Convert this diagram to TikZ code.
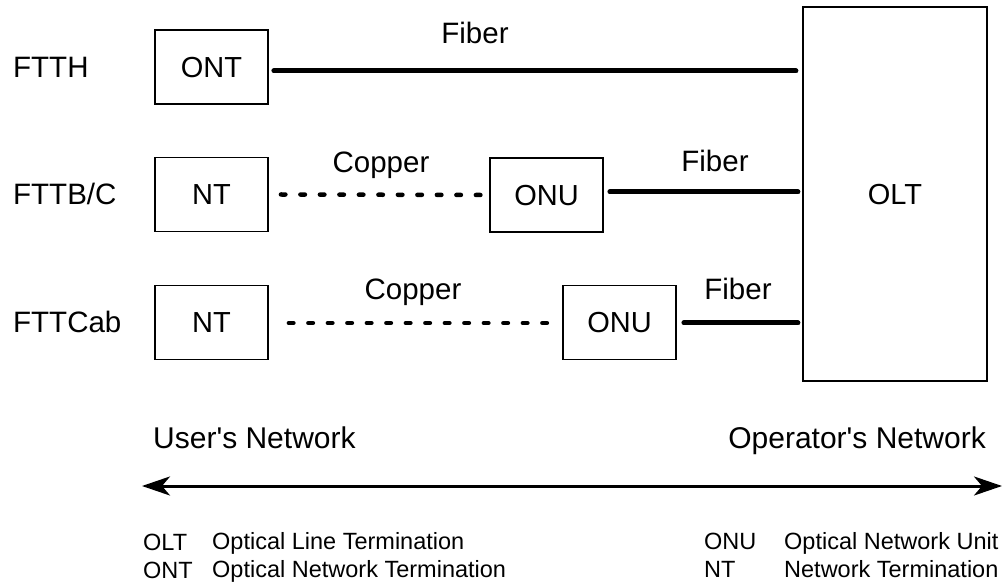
\documentclass[tikz,border=0pt]{standalone}
\usepackage{fontspec}
\setmainfont{Liberation Sans}
\usetikzlibrary{arrows.meta}
\begin{document}
\begin{tikzpicture}[x=1pt,y=-1pt,
  >={Stealth[length=28pt,width=19pt,inset=8pt]},
  box/.style={draw=black, line width=1.8pt, minimum width=113pt, minimum height=74pt, inner sep=0pt,
    font=\fontsize{29}{31}\selectfont, text height=21pt, text depth=0pt},
  bigbox/.style={draw=black, line width=2.2pt, minimum width=184pt, minimum height=374pt, inner sep=0pt,
    font=\fontsize{29}{31}\selectfont, text height=21pt, text depth=0pt},
  rowlabel/.style={anchor=base west, inner sep=0pt, font=\fontsize{29.5}{31}\selectfont},
  medium/.style={anchor=base, inner sep=0pt, font=\fontsize{29.5}{31}\selectfont},
  netlabel/.style={inner sep=0pt, font=\fontsize{30}{32}\selectfont},
  legend/.style={anchor=base west, inner sep=0pt, font=\fontsize{23.5}{25}\selectfont},
  fiber/.style={line width=5pt, line cap=round},
  copper/.style={line width=4.5pt, line cap=round, dash pattern=on 4.5pt off 15pt}
]
\useasboundingbox (0,0) rectangle (1007,585);

% boxes
\node[box] (ont) at (211.5,67) {ONT};
\node[box] (nt1) at (211.5,194.5) {NT};
\node[box] (onu1) at (546.5,195) {ONU};
\node[box] (nt2) at (211.5,322.5) {NT};
\node[box] (onu2) at (619.5,322.5) {ONU};
\node[bigbox] (olt) at (895,194) {OLT};

% row labels
\node[rowlabel] (lftth) at (13,78) {FTTH};
\node[rowlabel] (lfttb) at (13,205) {FTTB/C};
\node[rowlabel] (lfttc) at (13,333) {FTTCab};

% connectors (y=-1pt: a negative yshift moves down)
\draw[fiber] ([xshift=5pt,yshift=-4pt]ont.east) -- ([xshift=-6pt]olt.west |- 0,71);
\draw[copper] ([xshift=12pt]nt1.east) -- ([xshift=-7pt]onu1.west);
\draw[fiber] ([xshift=6pt,yshift=3pt]onu1.east) -- ([xshift=-4pt]olt.west |- 0,192);
\draw[copper] ([xshift=20pt,yshift=-0.5pt]nt2.east) -- ([xshift=-8pt,yshift=-0.5pt]onu2.west);
\draw[fiber] ([xshift=7pt,yshift=-0.5pt]onu2.east) -- ([xshift=-4pt]olt.west |- 0,323);

% medium labels
\node[medium] (f1) at (475,44) {Fiber};
\node[medium] (c2) at (381,173) {Copper};
\node[medium] (f2) at (715,172) {Fiber};
\node[medium] (c3) at (413,300) {Copper};
\node[medium] (f3) at (738,300) {Fiber};

% network labels and arrow
\node[netlabel, anchor=base west] (user) at (153,448) {User\textquotesingle s Network};
\node[netlabel, anchor=base east] (oper) at (986,448) {Operator\textquotesingle s Network};
\coordinate (al) at (142,486);
\coordinate (ar) at (1002,486);
\draw[line width=3pt, <->] (al) -- (ar);

% legend
\node[legend] (k1) at (143,550) {OLT};
\node[legend] (v1) at (212,549) {Optical Line Termination};
\node[legend] (k2) at (143,578) {ONT};
\node[legend] (v2) at (212,577) {Optical Network Termination};
\node[legend] (k3) at (704,549) {ONU};
\node[legend] (v3) at (784,549) {Optical Network Unit};
\node[legend] (k4) at (704,577) {NT};
\node[legend] (v4) at (784,577) {Network Termination};
\end{tikzpicture}
\end{document}
